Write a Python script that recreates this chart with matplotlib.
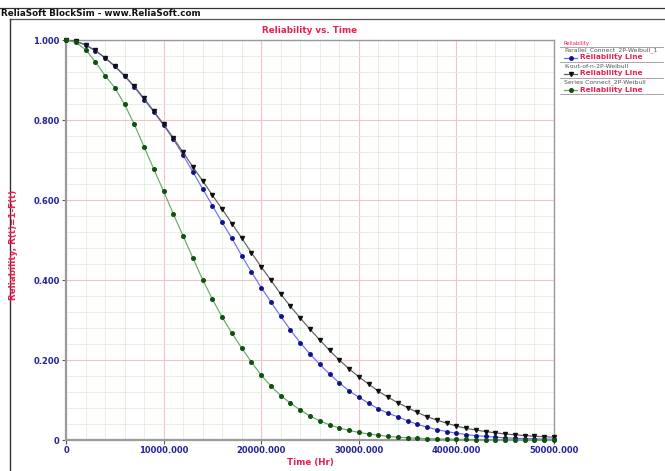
import matplotlib
matplotlib.use("Agg")
import matplotlib.pyplot as plt
from matplotlib.lines import Line2D
import numpy as np

# ---------------- data ----------------
time_hr = list(range(0, 50001, 1000))

parallel_rel = [1.000, 0.997, 0.987, 0.973, 0.955, 0.934, 0.910, 0.882, 0.851, 0.820,
                0.787, 0.752, 0.712, 0.670, 0.628, 0.586, 0.544, 0.504, 0.461, 0.420,
                0.381, 0.345, 0.309, 0.275, 0.243, 0.215, 0.189, 0.165, 0.143, 0.123,
                0.107, 0.092, 0.078, 0.067, 0.058, 0.048, 0.039, 0.032, 0.026, 0.021,
                0.017, 0.0135, 0.011, 0.009, 0.007, 0.0055, 0.0045, 0.0035, 0.0028, 0.0022,
                0.0018]

kofn_rel = [1.000, 0.997, 0.988, 0.974, 0.956, 0.935, 0.911, 0.884, 0.854, 0.822,
            0.789, 0.755, 0.719, 0.683, 0.648, 0.612, 0.577, 0.541, 0.505, 0.468,
            0.433, 0.399, 0.365, 0.334, 0.305, 0.277, 0.250, 0.224, 0.200, 0.178,
            0.158, 0.140, 0.122, 0.107, 0.093, 0.081, 0.069, 0.058, 0.050, 0.042,
            0.035, 0.029, 0.025, 0.021, 0.018, 0.015, 0.013, 0.011, 0.0095, 0.008,
            0.007]

series_rel = [1.000, 0.994, 0.976, 0.946, 0.911, 0.881, 0.839, 0.789, 0.733, 0.677,
              0.622, 0.565, 0.510, 0.455, 0.401, 0.352, 0.307, 0.267, 0.230, 0.195,
              0.162, 0.135, 0.111, 0.092, 0.075, 0.060, 0.048, 0.038, 0.030, 0.024,
              0.019, 0.015, 0.012, 0.009, 0.007, 0.0055, 0.0045, 0.0035, 0.0028, 0.0022,
              0.0017, 0.0013, 0.001, 0.0008, 0.0006, 0.0005, 0.0004, 0.0003, 0.0002, 0.0002,
              0.0001]

series_names = ["Parallel_Connect_2P-Weibull_1", "K-out-of-n-2P-Weibull", "Series Connect_2P-Weibull"]
x_ticks = [0, 10000, 20000, 30000, 40000, 50000]
x_tick_labels = ["0", "10000.000", "20000.000", "30000.000", "40000.000", "50000.000"]
y_ticks = [0, 0.2, 0.4, 0.6, 0.8, 1.0]
y_tick_labels = ["0", "0.200", "0.400", "0.600", "0.800", "1.000"]

# ---------------- style ----------------
W, H = 665, 471
DPI = 100
CRIMSON = "#e8204e"
NAVY = "#22229a"
styles = [
    dict(line="#7070f0", marker="o", mfc="#10108a", ms=2.5),
    dict(line="#606060", marker="v", mfc="#101010", ms=2.9),
    dict(line="#68a868", marker="o", mfc="#105010", ms=2.6),
]

fig = plt.figure(figsize=(W / DPI, H / DPI), dpi=DPI)
fig.patch.set_facecolor("white")

def fx(px):
    return px / W

def fy(py):
    return 1 - py / H

left, right, top, bottom = 66, 554, 40, 440
ax = fig.add_axes([fx(left), fy(bottom), fx(right) - fx(left), fy(top) - fy(bottom)])

data = [parallel_rel, kofn_rel, series_rel]
for vals, st in zip(data, styles):
    ax.plot(time_hr, vals, color=st["line"], lw=0.85, marker=st["marker"],
            ms=st["ms"], mfc=st["mfc"], mec=st["mfc"], zorder=3, clip_on=False)

ax.set_xlim(0, 50000)
ax.set_ylim(0, 1.0)
ax.set_xticks(x_ticks)
ax.set_xticklabels(x_tick_labels)
ax.set_yticks(y_ticks)
ax.set_yticklabels(y_tick_labels)
ax.set_xticks(np.arange(0, 50001, 2000), minor=True)
ax.set_yticks(np.arange(0, 1.0001, 0.04), minor=True)
ax.grid(which="major", color="#f2c4c8", lw=0.8, zorder=1)
ax.grid(which="minor", color="#dcf0dc", lw=0.6, zorder=0)
ax.set_axisbelow(True)

for lab in ax.get_xticklabels() + ax.get_yticklabels():
    lab.set_fontweight("bold")
    lab.set_color(NAVY)
    lab.set_fontsize(6.0)
ax.tick_params(which="major", length=3, width=0.8, color="#555555", pad=1.5)
ax.tick_params(which="minor", length=0)
for s in ax.spines.values():
    s.set_color("#9a9a9a")
    s.set_linewidth(1.0)
ax.spines["left"].set_linewidth(1.6)
ax.spines["bottom"].set_linewidth(1.6)

ax.set_title("Reliability vs. Time", color=CRIMSON, fontsize=6.3, fontweight="bold", pad=5)
fig.text(fx(310), fy(462), "Time (Hr)", color=CRIMSON, fontsize=6.3, fontweight="bold",
         ha="center", va="center")
fig.text(fx(14), fy(245), "Reliability, R(t)=1-F(t)", rotation=90, color=CRIMSON,
         fontsize=6.3, fontweight="bold", ha="center", va="center")

# header
fig.text(fx(1), fy(13), "ReliaSoft BlockSim - www.ReliaSoft.com", fontsize=6.3,
         fontweight="bold", color="#111111", ha="left", va="center")
fig.add_artist(Line2D([fx(0), fx(665)], [fy(8), fy(8)], color="#333333", lw=0.9))
fig.add_artist(Line2D([fx(10), fx(665)], [fy(18.5), fy(18.5)], color="#555555", lw=0.9))
fig.add_artist(Line2D([fx(10), fx(10)], [fy(18.5), fy(471)], color="#333333", lw=1.0))

# legend (manual layout)
fig.text(fx(563), fy(43.5), "Reliability", fontsize=3.8, color=CRIMSON, ha="left", va="center")
fig.add_artist(Line2D([fx(560), fx(663)], [fy(47.3), fy(47.3)], color="#999999", lw=0.6))
entry_y = [51, 67, 83]
for name, st, ey in zip(series_names, styles, entry_y):
    fig.text(fx(564), fy(ey - 0.5), name, fontsize=4.4, color="#555555", ha="left", va="center")
    fig.add_artist(Line2D([fx(564), fx(577)], [fy(ey + 6.5), fy(ey + 6.5)], color=st["line"], lw=0.9))
    fig.add_artist(Line2D([fx(570.5)], [fy(ey + 6.5)], lw=0,
                          marker=st["marker"], ms=st["ms"], mfc=st["mfc"], mec=st["mfc"]))
    fig.text(fx(580), fy(ey + 6.5), "Reliability Line", fontsize=5.3, fontweight="bold",
             color=CRIMSON, ha="left", va="center")
    fig.add_artist(Line2D([fx(560), fx(663)], [fy(ey + 11), fy(ey + 11)], color="#999999", lw=0.6))

fig.savefig("out.png", dpi=DPI, facecolor="white")
